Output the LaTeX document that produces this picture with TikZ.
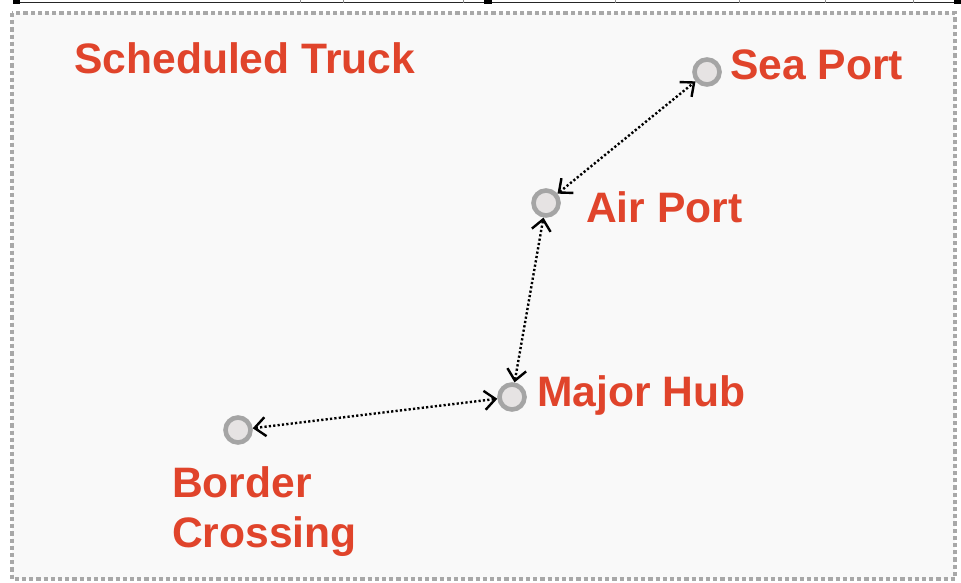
\documentclass[tikz,border=0pt]{standalone}
\usepackage{fontspec}
\setmainfont{Liberation Sans}
\usetikzlibrary{arrows.meta}
\definecolor{labelred}{HTML}{E0442B}
\definecolor{ringgray}{HTML}{A5A5A5}
\definecolor{dotfill}{HTML}{E6E3E3}
\definecolor{framegray}{HTML}{A8A8A8}
\definecolor{panelbg}{HTML}{F9F9F9}
\begin{document}
\begin{tikzpicture}[x=1pt,y=-1pt,
  site/.style={circle,draw=ringgray,fill=dotfill,line width=4.6pt,minimum size=25pt,inner sep=0pt},
  tag/.style={text=labelred,font=\bfseries\fontsize{42.6}{50}\selectfont,anchor=base west,inner sep=0pt,align=left},
  link/.style={line width=2.4pt,dash pattern=on 2.2pt off 2.2pt,
    {Straight Barb[length=11pt,width=19pt,line width=2.4pt]}-{Straight Barb[length=11pt,width=19pt,line width=2.4pt]}},
  frame/.style={draw=framegray,line width=3.6pt,dash pattern=on 4.2pt off 3pt}]
\useasboundingbox (0,0) rectangle (961,583);
\fill[white] (0,0) rectangle (961,583);

% edge of the table above the panel
\draw[line width=1.5pt,black!85] (14,2.6) -- (958,2.6);
\foreach \tx in {300,343,463,615,739,825,913}
  \draw[line width=0.8pt,black!45] (\tx,0) -- (\tx,2.6);
\fill[black] (13,0) rectangle (20,4);
\fill[black] (484,0) rectangle (492,4);
\fill[black] (954,0) rectangle (961,4);

% dashed panel
\fill[panelbg] (12,13) rectangle (955,579);
\draw[frame] (12,13) rectangle (955,579);

% title
\node[tag] (title) at (74,74) {Scheduled Truck};

% sites
\node[site] (sea) at (707,72) {};
\node[site] (air) at (546,203) {};
\node[site] (hub) at (512,397) {};
\node[site] (border) at (238,430) {};

\node[tag] (seatag) at (730,80) {Sea Port};
\node[tag] (airtag) at (586,222) {Air Port};
\node[tag] (hubtag) at (537,406) {Major Hub};
\node[tag] (bordertag) at (172,497) {Border};
\node[tag] (crosstag) at (172,547) {Crossing};

% scheduled truck links
\draw[link] (border) -- (hub);
\draw[link] (hub) -- (air);
\draw[link] (air) -- (sea);
\end{tikzpicture}
\end{document}
